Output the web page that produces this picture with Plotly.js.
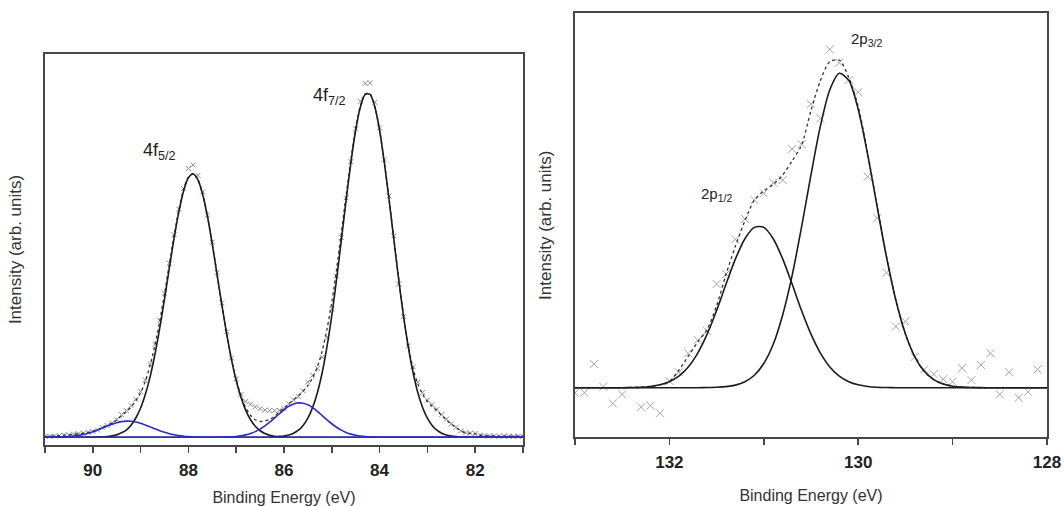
<!DOCTYPE html>
<html><head><meta charset="utf-8">
<script src="https://cdn.plot.ly/plotly-3.0.1.min.js"></script>
<style>html,body{margin:0;padding:0;background:#fff}#chart{width:1064px;height:506px}</style>
</head><body><div id="chart"></div>
<script>
// ---------- Left panel: 4f region ----------
const energyL = [
91.0,90.9,90.8,90.7,90.6,90.5,90.4,90.3,90.2,90.1,
90.0,89.9,89.8,89.7,89.6,89.5,89.4,89.3,89.2,89.1,
89.0,88.9,88.8,88.7,88.6,88.5,88.4,88.3,88.2,88.1,
88.0,87.9,87.8,87.7,87.6,87.5,87.4,87.3,87.2,87.1,
87.0,86.9,86.8,86.7,86.6,86.5,86.4,86.3,86.2,86.1,
86.0,85.9,85.8,85.7,85.6,85.5,85.4,85.3,85.2,85.1,
85.0,84.9,84.8,84.7,84.6,84.5,84.4,84.3,84.2,84.1,
84.0,83.9,83.8,83.7,83.6,83.5,83.4,83.3,83.2,83.1,
83.0,82.9,82.8,82.7,82.6,82.5,82.4,82.3,82.2,82.1,
82.0,81.9,81.8,81.7,81.6,81.5,81.4,81.3,81.2,81.1,
81.0];
const countsL = [
0.003,0.003,0.004,0.005,0.006,0.007,0.009,0.010,0.012,0.014,
0.017,0.021,0.028,0.034,0.041,0.052,0.066,0.078,0.092,0.110,
0.133,0.166,0.212,0.270,0.338,0.418,0.505,0.588,0.662,0.722,
0.780,0.790,0.760,0.712,0.645,0.566,0.478,0.390,0.306,0.230,
0.170,0.124,0.104,0.096,0.088,0.083,0.079,0.078,0.077,0.078,
0.083,0.097,0.108,0.118,0.135,0.160,0.180,0.200,0.232,0.290,
0.372,0.468,0.580,0.695,0.800,0.895,0.975,1.027,1.029,0.972,
0.898,0.805,0.700,0.585,0.445,0.350,0.265,0.205,0.160,0.130,
0.108,0.095,0.081,0.066,0.053,0.039,0.029,0.019,0.013,0.012,
0.011,0.006,0.005,0.004,0.004,0.003,0.004,0.003,0.003,0.003,
0.003];
const envelopeL = [
0.002,0.003,0.004,0.005,0.006,0.007,0.009,0.010,0.012,0.014,
0.017,0.021,0.028,0.034,0.041,0.050,0.062,0.074,0.088,0.106,
0.129,0.163,0.209,0.268,0.337,0.416,0.502,0.585,0.660,0.720,
0.755,0.765,0.748,0.705,0.641,0.561,0.473,0.385,0.302,0.229,
0.168,0.121,0.086,0.064,0.051,0.046,0.047,0.052,0.061,0.073,
0.085,0.097,0.109,0.121,0.134,0.150,0.173,0.205,0.251,0.314,
0.392,0.487,0.593,0.702,0.806,0.897,0.963,0.997,0.996,0.960,
0.891,0.797,0.690,0.576,0.460,0.355,0.265,0.200,0.155,0.125,
0.104,0.090,0.077,0.063,0.050,0.038,0.028,0.019,0.013,0.011,
0.010,0.006,0.005,0.004,0.004,0.003,0.003,0.003,0.003,0.003,
0.003];
const fit4f52 = [
0,0,0,0,0,0,0,0,0,0,
0.000,0.0005,0.001,0.002,0.004,0.007,0.013,0.021,0.035,0.056,
0.085,0.125,0.176,0.241,0.317,0.401,0.490,0.577,0.654,0.715,
0.753,0.764,0.747,0.704,0.640,0.560,0.472,0.384,0.301,0.227,
0.165,0.116,0.078,0.051,0.032,0.019,0.011,0.006,0.003,0.002,
0.001,0,0,0,0,0,0,0,0,0,
0,0,0,0,0,0,0,0,0,0,
0,0,0,0,0,0,0,0,0,0,
0,0,0,0,0,0,0,0,0,0,
0,0,0,0,0,0,0,0,0,0,
0];
const fit4f72 = [
0,0,0,0,0,0,0,0,0,0,
0,0,0,0,0,0,0,0,0,0,
0,0,0,0,0,0,0,0,0,0,
0,0,0,0,0,0,0,0,0,0,
0,0,0,0,0,0,0.0002,0.0004,0.0009,0.0018,
0.0035,0.0065,0.0118,0.0205,0.0344,0.0556,0.0867,0.130,0.188,0.263,
0.353,0.458,0.572,0.688,0.797,0.891,0.959,0.995,0.995,0.959,
0.891,0.797,0.688,0.572,0.458,0.353,0.263,0.188,0.130,0.0867,
0.0556,0.0344,0.0205,0.0118,0.0065,0.0035,0.0018,0.0009,0.0004,0.0002,
0,0,0,0,0,0,0,0,0,0,
0];
const fitBlueHigh = [
0.0001,0.0002,0.0004,0.0008,0.0014,0.0023,0.0037,0.0056,0.0083,0.0118,
0.0162,0.0212,0.0268,0.0325,0.0378,0.0423,0.0454,0.0469,0.0465,0.0444,
0.0406,0.0357,0.0302,0.0245,0.0191,0.0144,0.0103,0.0072,0.0048,0.0030,
0.0019,0.0011,0.0006,0.0003,0.0002,0.0001,0,0,0,0,
0,0,0,0,0,0,0,0,0,0,
0,0,0,0,0,0,0,0,0,0,
0,0,0,0,0,0,0,0,0,0,
0,0,0,0,0,0,0,0,0,0,
0,0,0,0,0,0,0,0,0,0,
0,0,0,0,0,0,0,0,0,0,
0];
const fitBlueLow = [
0,0,0,0,0,0,0,0,0,0,
0,0,0,0,0,0,0,0,0,0,
0,0,0,0,0,0,0,0,0,0,
0,0,0,0,0,0.0001,0.0002,0.0004,0.0008,0.0014,
0.0025,0.0043,0.0070,0.0110,0.0165,0.0238,0.0330,0.0437,0.0557,0.0680,
0.0797,0.0896,0.0965,0.0998,0.0990,0.0942,0.0859,0.0752,0.0631,0.0508,
0.0393,0.0291,0.0207,0.0141,0.0092,0.0058,0.0035,0.0020,0.0011,0.0006,
0.0003,0.0001,0,0,0,0,0,0,0,0,
0,0,0,0,0,0,0,0,0,0,
0,0,0,0,0,0,0,0,0,0,
0];

// ---------- Right panel: 2p region ----------
const energyR = [
133.0,132.9,132.8,132.7,132.6,132.5,132.4,132.3,132.2,132.1,
132.0,131.9,131.8,131.7,131.6,131.5,131.4,131.3,131.2,131.1,
131.0,130.9,130.8,130.7,130.6,130.5,130.4,130.3,130.2,130.1,
130.0,129.9,129.8,129.7,129.6,129.5,129.4,129.3,129.2,129.1,
129.0,128.9,128.8,128.7,128.6,128.5,128.4,128.3,128.2,128.1,
128.0];
const dataEnergyR = [
133.0,132.9,132.8,132.7,132.6,132.5,132.3,132.2,132.1,
132.0,131.9,131.8,131.7,131.6,131.5,131.4,131.3,131.2,131.1,
131.0,130.9,130.8,130.7,130.6,130.5,130.4,130.3,130.2,130.1,
130.0,129.9,129.8,129.7,129.6,129.5,129.4,129.3,129.2,129.1,
129.0,128.9,128.8,128.7,128.6,128.5,128.4,128.3,128.2,128.1];
const countsR = [
-0.016,-0.016,0.075,0.003,-0.050,-0.021,-0.062,-0.057,-0.081,
0.021,0.049,0.109,0.151,0.180,0.329,0.361,0.471,0.536,0.596,
0.617,0.651,0.659,0.758,0.773,0.901,0.855,1.074,1.032,0.977,
0.938,0.670,0.538,0.365,0.194,0.210,0.098,0.058,0.043,0.027,
0.019,0.062,0.024,0.072,0.109,-0.021,0.049,-0.032,-0.013,0.058];
const envelopeR = [
0,0,0,0,0,0,0.001,0.002,0.004,0.009,
0.020,0.055,0.100,0.145,0.185,0.260,0.360,0.450,0.530,0.595,
0.625,0.645,0.675,0.720,0.770,0.880,0.975,1.035,1.040,0.985,
0.893,0.745,0.578,0.416,0.277,0.171,0.098,0.052,0.026,0.012,
0.005,0.002,0.001,0,0,0,0,0,0,0,
0];
const fit2p12 = [
0,0,0,0,0,0,0.0007,0.0017,0.0041,0.0092,
0.0191,0.0368,0.0660,0.110,0.170,0.245,0.329,0.409,0.473,0.509,
0.509,0.473,0.409,0.329,0.245,0.170,0.110,0.0660,0.0368,0.0191,
0.0092,0.0041,0.0017,0.0007,0,0,0,0,0,0,
0,0,0,0,0,0,0,0,0,0,
0];
const fit2p32 = [
0,0,0,0,0,0,0,0,0,0,
0,0,0,0.0001,0.0005,0.0013,0.0034,0.0083,0.0189,0.0396,
0.0768,0.138,0.231,0.356,0.510,0.676,0.831,0.946,0.998,0.976,
0.884,0.741,0.576,0.415,0.277,0.171,0.098,0.052,0.0256,0.0117,
0.0049,0.0019,0.0007,0.0002,0,0,0,0,0,0,
0];

const tickValsL = [90, 88, 86, 84, 82];
const tickValsR = [132, 130, 128];
const peakLabels = ['4f<sub>5/2</sub>', '4f<sub>7/2</sub>', '2p<sub>3/2</sub>', '2p<sub>1/2</sub>'];
const labelX = [88.60, 85.04, 129.91, 131.50];
const labelY = [0.829, 0.989, 1.104, 0.612];

const FONT = 'Liberation Sans, Arial, sans-serif';
const BLACK = '#1c1c1c', BLUE = '#2a2ad0', FRAME = '#484848';

function markers(x, y, ax, size, color) {
  return {x: x, y: y, xaxis: ax[0], yaxis: ax[1], mode: 'markers', hoverinfo: 'skip',
    marker: {symbol: 'x-thin', size: size, color: color, line: {width: 1, color: color}}};
}
function curve(x, y, ax, color, width, dash) {
  return {x: x, y: y, xaxis: ax[0], yaxis: ax[1], mode: 'lines', hoverinfo: 'skip',
    line: {color: color, width: width, dash: dash || 'solid', shape: 'spline', smoothing: 0.8}};
}
const L = ['x', 'y'], R = ['x2', 'y2'];
const data = [
  markers(energyL, countsL, L, 5, '#8a8a8a'),
  curve(energyL, envelopeL, L, '#333', 1.3, 'dot'),
  curve(energyL, fit4f52, L, BLACK, 1.6),
  curve(energyL, fit4f72, L, BLACK, 1.6),
  curve(energyL, fitBlueHigh, L, BLUE, 1.6),
  curve(energyL, fitBlueLow, L, BLUE, 1.6),
  markers(dataEnergyR, countsR, R, 8, '#a4a4a4'),
  curve(energyR, envelopeR, R, '#333', 1.3, 'dot'),
  curve(energyR, fit2p12, R, BLACK, 1.6),
  curve(energyR, fit2p32, R, BLACK, 1.6)
];

function xAxis(domain, range, anchor, tickvals, standoff) {
  return {domain: domain, range: range, anchor: anchor, showline: true, mirror: true,
    linecolor: FRAME, linewidth: 1.6, ticks: 'outside', ticklen: 6, tickwidth: 1.5, tickcolor: FRAME,
    tickmode: 'array', tickvals: tickvals, ticktext: tickvals.map(String),
    minor: {dtick: 1, tick0: 0, ticks: 'outside', ticklen: 6, tickwidth: 1.5, tickcolor: FRAME},
    showgrid: false, zeroline: false, automargin: false, ticklabelstandoff: 3,
    tickfont: {family: FONT, size: 17, color: '#222', weight: 'bold'},
    title: {text: 'Binding Energy (eV)', font: {family: FONT, size: 16, color: '#333'}, standoff: standoff}};
}
function yAxis(domain, range, anchor) {
  return {domain: domain, range: range, anchor: anchor, showline: true, mirror: true,
    linecolor: FRAME, linewidth: 1.6, ticks: '', showticklabels: false, showgrid: false,
    zeroline: false, automargin: false,
    title: {text: 'Intensity (arb. units)', font: {family: FONT, size: 17, color: '#333'}, standoff: 17}};
}
const annAxes = [['x', 'y'], ['x', 'y'], ['x2', 'y2'], ['x2', 'y2']];
const annSize = [18, 18, 15, 15];
const layout = {
  width: 1064, height: 506, margin: {l: 0, r: 0, t: 0, b: 0},
  paper_bgcolor: '#fff', plot_bgcolor: '#fff', showlegend: false,
  font: {family: FONT},
  xaxis: xAxis([0.0423, 0.4915], [91, 81], 'y', tickValsL, 13),
  yaxis: yAxis([0.1206, 0.8933], [-0.0223, 1.1123], 'x'),
  xaxis2: xAxis([0.5404, 0.984], [133, 128], 'y2', tickValsR, 18),
  yaxis2: yAxis([0.1354, 0.9743], [-0.158, 1.1895], 'x2'),
  annotations: peakLabels.map((t, i) => ({text: t, x: labelX[i], y: labelY[i],
    xref: annAxes[i][0], yref: annAxes[i][1], showarrow: false,
    font: {family: FONT, size: annSize[i], color: '#222'}}))
};
Plotly.newPlot('chart', data, layout, {displayModeBar: false, staticPlot: true});
</script></body></html>
